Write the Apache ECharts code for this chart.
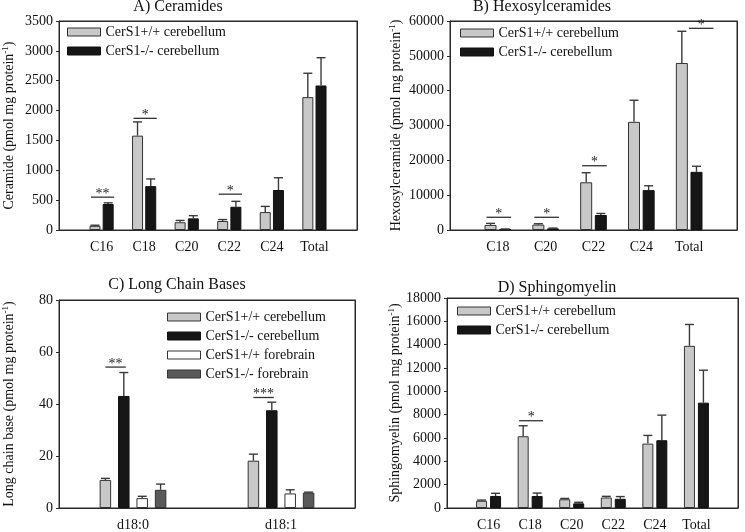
<!DOCTYPE html>
<html>
<head>
<meta charset="utf-8">
<script src="https://cdn.jsdelivr.net/npm/echarts@6/dist/echarts.min.js"></script>
<style>
html,body{margin:0;padding:0;background:#fff;}
#chart{width:745px;height:532px;}
</style>
</head>
<body>
<div id="chart"></div>
<script>
// ---------- DATA ----------
const seriesNames = ['CerS1+/+ cerebellum', 'CerS1-/- cerebellum', 'CerS1+/+ forebrain', 'CerS1-/- forebrain'];

// A) Ceramides
const catsA = ['C16', 'C18', 'C20', 'C22', 'C24', 'Total'];
const wtA = [70, 1580, 130, 150, 300, 2225];
const wtErrA = [10, 230, 30, 25, 95, 400];
const koA = [435, 735, 195, 390, 670, 2420];
const koErrA = [20, 120, 45, 90, 205, 465];
const sigA = [['C16', 550, '**'], ['C18', 1870, '*'], ['C22', 600, '*']];
const ticksA = {max: 3500, interval: 500};

// B) Hexosylceramides
const catsB = ['C18', 'C20', 'C22', 'C24', 'Total'];
const wtB = [1450, 1550, 13700, 31050, 47950];
const wtErrB = [450, 250, 2750, 6200, 9100];
const koB = [200, 450, 4300, 11450, 16700];
const koErrB = [100, 100, 450, 1250, 1600];
const sigB = [['C18', 3650, '*'], ['C20', 3650, '*'], ['C22', 18450, '*'], ['Total', 57900, '*']];
const ticksB = {max: 60000, interval: 10000};

// C) Long Chain Bases
const catsC = ['d18:0', 'd18:1'];
const wtCbC = [10.8, 18.2];
const wtCbErrC = [0.6, 2.5];
const koCbC = [43.1, 37.6];
const koCbErrC = [9.0, 3.1];
const wtFbC = [3.8, 5.6];
const wtFbErrC = [0.7, 1.4];
const koFbC = [7.0, 5.9];
const koFbErrC = [2.2, 0.2];
const sigC = [['d18:0', 54.2, '**'], ['d18:1', 42.5, '***']];
const ticksC = {max: 80, interval: 20};

// D) Sphingomyelin
const catsD = ['C16', 'C18', 'C20', 'C22', 'C24', 'Total'];
const wtD = [620, 6150, 750, 900, 5520, 13900];
const wtErrD = [60, 900, 70, 100, 700, 1830];
const koD = [1030, 1030, 400, 790, 5810, 9030];
const koErrD = [230, 250, 90, 190, 2150, 2780];
const sigD = [['C18', 7480, '*']];
const ticksD = {max: 18000, interval: 2000};

// ---------- STYLE ----------
const FONT = '"Liberation Serif", "Times New Roman", serif';
const TXT = '#111';
const AX = '#2a2a2a';
const fills = ['#c8c8c8', '#161616', '#ffffff', '#5a5a5a'];
const borders = ['#333', '#111', '#333', '#333'];

const grids = [
  {left: 58, right: 388, top: 21, bottom: 302},
  {left: 450, right: 8, top: 21, bottom: 302},
  {left: 58, right: 390, top: 300, bottom: 23},
  {left: 447, right: 7, top: 298, bottom: 24}
];

const panels = [
  {title: 'A) Ceramides', tx: 178, ty: 7, cats: catsA, padded: true,
   groups: [[wtA, wtErrA], [koA, koErrA]], sig: sigA, ticks: ticksA,
   barWidth: 11, barGap: 0.2, ext: 4, yname: 'Ceramide (pmol mg protein', nameGap: 42,
   legend: {left: 67, top: 25}, sigShift: {}},
  {title: 'B) Hexosylceramides', tx: 542, ty: 7, cats: catsB, padded: true,
   groups: [[wtB, wtErrB], [koB, koErrB]], sig: sigB, ticks: ticksB,
   barWidth: 12, barGap: 0.22, ext: 4, yname: 'Hexosylceramide (pmol mg protein', nameGap: 46,
   legend: {left: 460, top: 26}, sigShift: {Total: 11}},
  {title: 'C) Long Chain Bases', tx: 177, ty: 285, cats: catsC, padded: false,
   groups: [[wtCbC, wtCbErrC], [koCbC, koCbErrC], [wtFbC, wtFbErrC], [koFbC, koFbErrC]], sig: sigC, ticks: ticksC,
   barWidth: 11.5, barGap: 0.6, ext: 0, yname: 'Long chain base (pmol mg protein', nameGap: 42,
   legend: {left: 167, top: 310}, sigShift: {}},
  {title: 'D) Sphingomyelin', tx: 557, ty: 288, cats: catsD, padded: true,
   groups: [[wtD, wtErrD], [koD, koErrD]], sig: sigD, ticks: ticksD,
   barWidth: 11, barGap: 0.27, ext: 4, yname: 'Sphingomyelin (pmol mg protein', nameGap: 44,
   legend: {left: 457, top: 304}, sigShift: {}}
];

const xAxes = [], yAxes = [], series = [], legends = [], graphics = [];
const frameLine = {show: true, onZero: false, lineStyle: {color: AX, width: 1}};

panels.forEach((p, gi) => {
  const axisCats = p.padded ? [''].concat(p.cats, ['']) : p.cats.slice();
  const catIndex = c => axisCats.indexOf(c);
  xAxes.push({
    type: 'category', gridIndex: gi, data: axisCats, boundaryGap: !p.padded, position: 'bottom',
    axisLine: frameLine,
    axisTick: {show: false},
    axisLabel: {fontFamily: FONT, fontSize: 14, color: TXT, margin: 10, interval: 0}
  });
  yAxes.push({
    type: 'value', gridIndex: gi, min: 0, max: p.ticks.max, interval: p.ticks.interval, position: 'left',
    name: '{a|' + p.yname + '}{s|-1}{a|)}', nameLocation: 'middle', nameGap: p.nameGap,
    nameTextStyle: {fontFamily: FONT, fontSize: 14, color: TXT,
      rich: {a: {fontFamily: FONT, fontSize: 14, color: TXT, lineHeight: 16},
             s: {fontFamily: FONT, fontSize: 9, color: TXT, verticalAlign: 'top', lineHeight: 16}}},
    axisLine: frameLine,
    axisTick: {show: true, inside: false, length: 3, lineStyle: {color: AX}},
    axisLabel: {fontFamily: FONT, fontSize: 14, color: TXT, margin: 6, formatter: v => String(v)},
    splitLine: {show: false}
  });
  const n = p.groups.length;
  const step = p.barWidth * (1 + p.barGap);
  const offsets = p.groups.map((g, i) => (i - (n - 1) / 2) * step);
  p.groups.forEach((g, i) => {
    const [vals, errs] = g;
    series.push({
      type: 'bar', name: seriesNames[i], xAxisIndex: gi, yAxisIndex: gi,
      barWidth: p.barWidth, barGap: (p.barGap * 100) + '%',
      itemStyle: {color: fills[i], borderColor: borders[i], borderWidth: 1},
      emphasis: {disabled: true},
      data: vals.map((v, k) => [catIndex(p.cats[k]), v]),
      z: 2
    });
    const off = offsets[i];
    series.push({
      type: 'custom', name: 'err' + gi + '_' + i, xAxisIndex: gi, yAxisIndex: gi, silent: true, z: 3,
      data: vals.map((v, k) => [catIndex(p.cats[k]), v, v + errs[k]]),
      renderItem: (params, api) => {
        const b = api.coord([api.value(0), api.value(1)]);
        const t = api.coord([api.value(0), api.value(2)]);
        const x = b[0] + off;
        const st = {stroke: '#3a3a3a', lineWidth: 1.4};
        return {type: 'group', children: [
          {type: 'line', shape: {x1: x, y1: b[1], x2: x, y2: t[1]}, style: st},
          {type: 'line', shape: {x1: x - 4.5, y1: t[1], x2: x + 4.5, y2: t[1]}, style: st}
        ]};
      }
    });
  });
  // significance markers
  series.push({
    type: 'custom', name: 'sig' + gi, xAxisIndex: gi, yAxisIndex: gi, silent: true, z: 4,
    data: p.sig.map(s => [catIndex(s[0]), s[1]]),
    renderItem: (params, api) => {
      const s = p.sig[params.dataIndex];
      const shift = p.sigShift[s[0]] || 0;
      const c = api.coord([api.value(0), api.value(1)]);
      const x1 = c[0] + offsets[0] - p.ext + shift;
      const x2 = c[0] + offsets[1] + p.ext + 2 + shift;
      return {type: 'group', children: [
        {type: 'line', shape: {x1: x1, y1: c[1], x2: x2, y2: c[1]}, style: {stroke: '#333', lineWidth: 1.3}},
        {type: 'text', x: (x1 + x2) / 2, y: c[1] + 4,
         style: {text: s[2], font: '14px "Liberation Serif", serif', fill: '#222', align: 'center', verticalAlign: 'bottom'}}
      ]};
    }
  });
  legends.push({
    orient: 'vertical', left: p.legend.left, top: p.legend.top, padding: 0,
    itemWidth: 33, itemHeight: 8, itemGap: 5, icon: 'rect',
    selectedMode: false,
    textStyle: {fontFamily: FONT, fontSize: 14, color: TXT},
    data: seriesNames.slice(0, n).map((nm, i) => ({name: nm, icon: 'rect',
      itemStyle: {color: fills[i], borderColor: borders[i], borderWidth: 1}}))
  });
  graphics.push({type: 'text', x: p.tx, y: p.ty,
    style: {text: p.title, font: '16px "Liberation Serif", serif', fill: TXT, align: 'center', verticalAlign: 'middle'}});
});

// top and right edges of each plot box, as extra axes of the same grids
panels.forEach((p, gi) => {
  xAxes.push({type: 'value', gridIndex: gi, position: 'top', min: 0, max: 1,
    axisLine: frameLine, axisTick: {show: false}, axisLabel: {show: false}, splitLine: {show: false}});
  yAxes.push({type: 'value', gridIndex: gi, position: 'right', min: 0, max: 1,
    axisLine: frameLine, axisTick: {show: false}, axisLabel: {show: false}, splitLine: {show: false}});
});

const chart = echarts.init(document.getElementById('chart'), null, {renderer: 'canvas'});
chart.setOption({
  animation: false,
  backgroundColor: '#fff',
  grid: grids.map(g => Object.assign({show: true, borderColor: AX, borderWidth: 1, backgroundColor: 'transparent'}, g)),
  xAxis: xAxes,
  yAxis: yAxes,
  legend: legends,
  series: series,
  graphic: graphics
});
</script>
</body>
</html>
